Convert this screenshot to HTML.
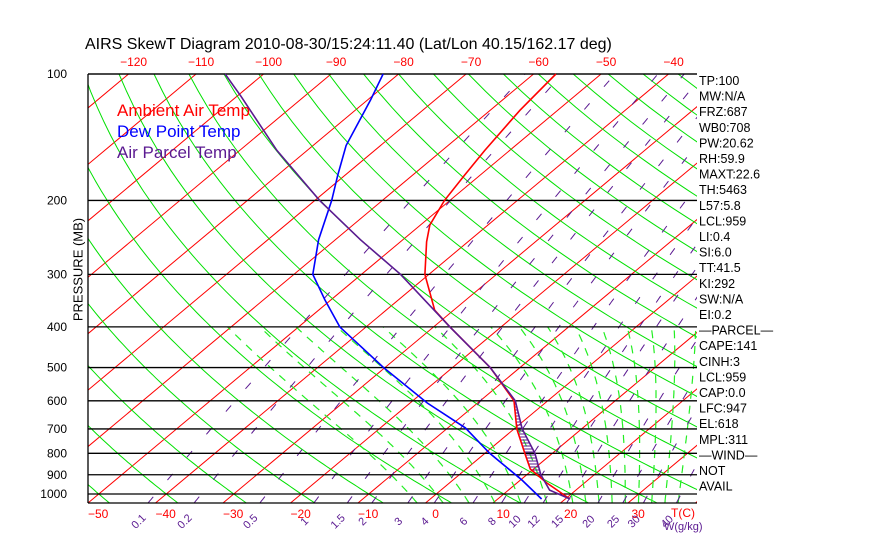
<!DOCTYPE html>
<html><head><meta charset="utf-8"><style>
body{margin:0;background:#fff}
svg{display:block;font-family:"Liberation Sans",sans-serif}
</style></head><body>
<svg id="c" width="870" height="560" viewBox="0 0 870 560">
<defs><clipPath id="clip"><rect x="88" y="74" width="609" height="429"/></clipPath></defs>
<g id="bg" clip-path="url(#clip)"></g>
<g id="fg"></g>
</svg>
<script>
// sounding data (pressure hPa, temperature C)
const tempP=[100,122,152,174,200,229,251,300,365,400,500,600,700,800,872,941,1028];
const tempT=[-56.7,-55.6,-53.7,-52.3,-50.8,-48.6,-46.1,-40.6,-32.8,-27.6,-14.4,-5.0,0.4,5.9,9.5,14.4,20.7];
const dewP=[100,115,148,174,200,248,300,345,400,500,607,696,800,926,1028];
const dewT=[-82.3,-79.6,-75.1,-71.1,-67.5,-62.5,-57.2,-50.9,-43.9,-30.2,-17.5,-7.4,0.7,10.2,16.5];
const parcelP=[100,113,152,200,248,300,400,500,600,700,800,900,979,1028];
const parcelT=[-105.7,-99.4,-84.5,-69.3,-56.3,-44.2,-27.6,-14.4,-4.8,1.2,7.4,12.1,16.1,20.7];
const pressureTicks=[100,200,300,400,500,600,700,800,900,1000];
const bottomTicks=[-50,-40,-30,-20,-10,0,10,20,30];
const topTicks=[-120,-110,-100,-90,-80,-70,-60,-50,-40];
const mixRatios=[0.1,0.2,0.5,1,1.5,2,3,4,6,8,10,12,15,20,25,30,40];
const isotherms=[-130,-120,-110,-100,-90,-80,-70,-60,-50,-40,-30,-20,-10,0,10,20,30,40];
const dryThetas=[-50,-40,-30,-20,-10,0,10,20,30,40,50,60,70,80,90,100,110,120,130,140,150,160,170,180,190];
const moistThetas=[-4,0,4,8,12,16,20,22,24,26,28,30,32,34,36];
const infoLines=["TP:100","MW:N/A","FRZ:687","WB0:708","PW:20.62","RH:59.9","MAXT:22.6","TH:5463","L57:5.8","LCL:959","LI:0.4","SI:6.0","TT:41.5","KI:292","SW:N/A","EI:0.2","\u2014PARCEL\u2014","CAPE:141","CINH:3","LCL:959","CAP:0.0","LFC:947","EL:618","MPL:311","\u2014WIND\u2014"," NOT","AVAIL"];

const NS="http://www.w3.org/2000/svg";
const bg=document.getElementById('bg'), fg=document.getElementById('fg'), svg=document.getElementById('c');
const PUR="#5b1a91";
function yP(p){return 74+182.4*Math.log(p/100);}
function xT(T,p){return 88+6.75*(T+50)+1.196*(503-yP(p));}
function mk(tag,attrs,parent){const e=document.createElementNS(NS,tag);for(const k in attrs)e.setAttribute(k,attrs[k]);parent.appendChild(e);return e;}
function pts(P,T){return P.map((p,i)=>xT(T[i],p).toFixed(1)+','+yP(p).toFixed(1)).join(' ');}
const pLevels=[];for(let p=100;p<=1050;p+=10)pLevels.push(p);

isotherms.forEach(t=>{const l=mk('line',{x1:xT(t,1050),y1:yP(1050),x2:xT(t,100),y2:yP(100),stroke:'#ff0000','stroke-width':1},bg);
});
dryThetas.forEach(th=>{const T=pLevels.map(p=>(th+273.15)*Math.pow(p/1000,0.286)-273.15);
const l=mk('polyline',{points:pts(pLevels,T),fill:'none',stroke:'#00e000','stroke-width':1},bg);
});
function es(T){return 6.112*Math.exp(17.67*T/(T+243.5));}
moistThetas.forEach(tw=>{let T=tw+273.15;const P=[],TT=[];
 for(let p=1050;p>=400;p-=5){P.push(p);TT.push(T-273.15);
  const rs=0.622*es(T-273.15)/(p-es(T-273.15));const Rd=287,cp=1005,L=2.5e6;
  const dTdp=(Rd*T+L*rs)/(p*(cp+L*L*rs*0.622/(Rd*T*T)));T-=dTdp*5;}
 const i1000=P.indexOf(1000);const off=tw-TT[i1000];
 const l=mk('polyline',{points:pts(P,TT.map(v=>v+off)),fill:'none',stroke:'#22ee22','stroke-width':1.2,'stroke-dasharray':'8 7'},bg);
 });
function tdw(w,p){const e=w*p/(622+w);const a=Math.log(e/6.112);return 243.5*a/(17.67-a);}
mixRatios.forEach(w=>{const P=[],T=[];for(let p=1050;p>=100;p-=10){P.push(p);T.push(tdw(w,p));}
 const l=mk('polyline',{points:pts(P,T),fill:'none',stroke:PUR,'stroke-width':1,'stroke-dasharray':'8 22'},bg);
 
 const x=xT(tdw(w,1050),1050)-7,y=524;
 const t=mk('text',{x:x,y:y,fill:PUR,'font-size':11,transform:`rotate(-45 ${x} ${y})`,'text-anchor':'middle'},svg);
 t.textContent=w;});
pressureTicks.forEach(p=>{const y=yP(p);const l=mk('line',{x1:88,y1:y,x2:697,y2:y,stroke:'#000','stroke-width':1.3},fg);
 
 const t=mk('text',{x:67,y:y+4,'font-size':12,'text-anchor':'end',fill:'#000'},fg);t.textContent=p;
 });
mk('line',{x1:88,y1:74,x2:697,y2:74,stroke:'#000','stroke-width':1.3},fg);
mk('line',{x1:88,y1:503,x2:697,y2:503,stroke:'#000','stroke-width':1.3},fg);
mk('line',{x1:88,y1:74,x2:88,y2:503,stroke:'#000','stroke-width':1.3},fg);
function interp(P,T,p){for(let i=0;i<P.length-1;i++){if(p>=P[i]&&p<=P[i+1]){const f=(Math.log(p)-Math.log(P[i]))/(Math.log(P[i+1])-Math.log(P[i]));return T[i]+f*(T[i+1]-T[i]);}}return null;}
for(let y=404;y<=492;y+=3){const p=100*Math.exp((y-74)/182.4);const a=interp(parcelP,parcelT,p),b=interp(tempP,tempT,p);
 if(a!==null&&b!==null&&a>b){const l=mk('line',{x1:xT(b,p),y1:y,x2:xT(a,p),y2:y,stroke:PUR,'stroke-width':1},fg);
 }}
[[dewP,dewT,'#0000ff','dewpoint-line'],[tempP,tempT,'#ff0000','temperature-line'],[parcelP,parcelT,PUR,'parcel-line']].forEach(s=>{
 const l=mk('polyline',{points:pts(s[0],s[1]),fill:'none',stroke:s[2],'stroke-width':1.6},fg);
 });
bottomTicks.forEach(t=>{const x=xT(t,1050)+10;const e=mk('text',{x:x,y:518,'font-size':12,'text-anchor':'middle',fill:'#ff0000'},fg);
 e.textContent=(t<0?'\u2212':'')+Math.abs(t);});
topTicks.forEach(t=>{const x=xT(t,100)+5;const e=mk('text',{x:x,y:66,'font-size':12,'text-anchor':'middle',fill:'#ff0000'},fg);
 e.textContent=(t<0?'\u2212':'')+Math.abs(t);});
infoLines.forEach((s,i)=>{const e=mk('text',{x:699,y:85+i*15.6,'font-size':12.5,fill:'#000'},fg);e.textContent=s;
 });
</script>
<div style="position:absolute;left:0;top:0;width:870px;height:560px;pointer-events:none">
<div style="position:absolute;left:85px;top:36px;font:16px 'Liberation Sans',sans-serif;white-space:nowrap">AIRS SkewT Diagram 2010-08-30/15:24:11.40 (Lat/Lon 40.15/162.17 deg)</div>
<div style="position:absolute;left:117px;top:101px;font:17px 'Liberation Sans',sans-serif;color:#f00">Ambient Air Temp</div>
<div style="position:absolute;left:117px;top:122px;font:17px 'Liberation Sans',sans-serif;color:#00f">Dew Point Temp</div>
<div style="position:absolute;left:117px;top:143px;font:17px 'Liberation Sans',sans-serif;color:#5b1a91">Air Parcel Temp</div>
<div style="position:absolute;left:20px;top:262px;width:116px;font:13px 'Liberation Sans',sans-serif;transform:translate(-50%,0) rotate(-90deg);transform-origin:50% 50%;text-align:center;margin-left:58px">PRESSURE (MB)</div>
<div style="position:absolute;left:671px;top:506px;font:12px 'Liberation Sans',sans-serif;color:#f00">T(C)</div>
<div style="position:absolute;left:664px;top:521px;font:11px 'Liberation Sans',sans-serif;color:#5b1a91">W(g/kg)</div>
</div>
</body></html>
